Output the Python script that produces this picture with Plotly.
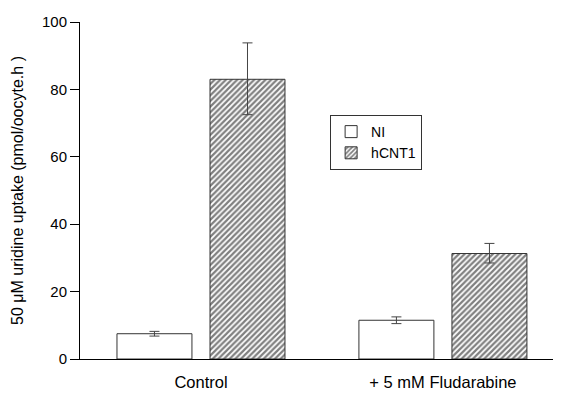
import plotly.graph_objects as go

categories = ["Control", "+ 5 mM Fludarabine"]
ni_values = [7.5, 11.5]
ni_err = [0.7, 1.0]
hcnt1_values = [83.0, 31.3]
hcnt1_err_plus = [10.8, 3.0]
hcnt1_err_minus = [10.5, 2.8]
yticks = [0, 20, 40, 60, 80, 100]

fig = go.Figure()
fig.add_trace(go.Bar(
    name="NI", x=categories, y=ni_values,
    marker=dict(color="white", line=dict(color="#333333", width=1)),
    error_y=dict(type="data", array=ni_err, color="#444444", thickness=1, width=5),
))
fig.add_trace(go.Bar(
    name="hCNT1", x=categories, y=hcnt1_values,
    marker=dict(color="white", line=dict(color="#333333", width=1),
                pattern=dict(shape="/", size=4, solidity=0.55, fgcolor="black", bgcolor="white")),
    error_y=dict(type="data", array=hcnt1_err_plus, arrayminus=hcnt1_err_minus,
                 color="#444444", thickness=1, width=5),
))

fig.update_layout(
    width=553, height=387,
    margin=dict(l=72, r=0, t=14, b=36),
    paper_bgcolor="white", plot_bgcolor="white",
    barmode="group", bargap=0.231, bargroupgap=0.194,
    font=dict(family="Liberation Sans, Arial, sans-serif", size=15, color="black"),
    showlegend=True,
    legend=dict(x=0.52, y=0.724, xanchor="left", yanchor="top",
                bordercolor="#333333", borderwidth=1, bgcolor="white",
                font=dict(size=14), tracegroupgap=0, itemwidth=30),
    xaxis=dict(range=[-0.5, 1.488], showline=True, linecolor="black", linewidth=1,
               ticks="", showgrid=False, zeroline=False, automargin=False,
               tickfont=dict(size=16.5), ticklabelstandoff=8),
    yaxis=dict(range=[0, 100], tickvals=yticks, showline=True, linecolor="black",
               linewidth=1, ticks="outside", ticklen=9, tickcolor="black",
               showgrid=False, zeroline=False, automargin=False,
               tickfont=dict(size=15),
               title=dict(text="50 μM uridine uptake (pmol/oocyte.h )",
                          standoff=14, font=dict(size=16))),
)

fig.write_html("out.html")
